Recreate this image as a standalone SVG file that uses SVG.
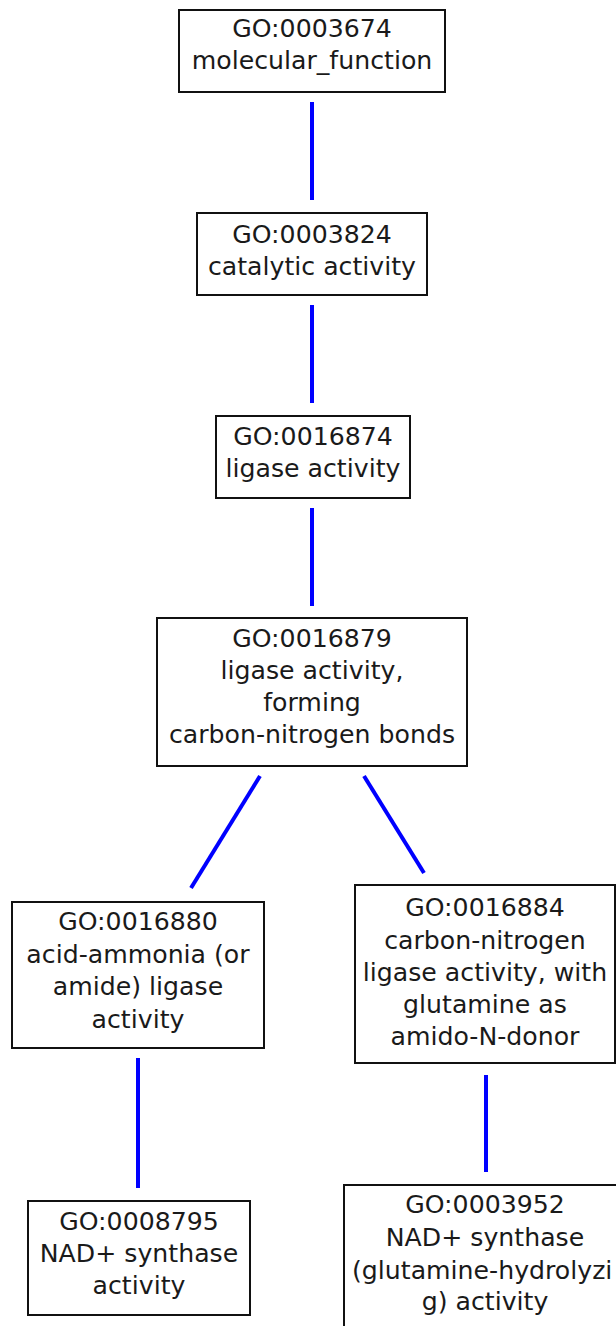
<svg xmlns="http://www.w3.org/2000/svg" width="616" height="1326" viewBox="0 0 616 1326">
  <style>
    .box { fill: #ffffff; stroke: #111111; stroke-width: 2; }
    .lbl { font-family: "DejaVu Sans", sans-serif; font-size: 25.2px; fill: #1a1a1a; text-anchor: middle; }
    .edge { stroke: #0000ff; stroke-width: 4; fill: none; }
  </style>
  <rect width="616" height="1326" fill="#ffffff"/>

  <g id="connectors">
    <line class="edge" x1="312" y1="102" x2="312" y2="200"/>
    <line class="edge" x1="312" y1="305" x2="312" y2="403"/>
    <line class="edge" x1="312" y1="508" x2="312" y2="606"/>
    <line class="edge" x1="260" y1="776" x2="191" y2="888"/>
    <line class="edge" x1="364" y1="776" x2="424" y2="873"/>
    <line class="edge" x1="138" y1="1058" x2="138" y2="1188"/>
    <line class="edge" x1="486" y1="1075" x2="486" y2="1172"/>
  </g>

  <g id="GO0003674">
    <rect class="box" x="179" y="10" width="266" height="82"/>
    <text class="lbl" x="312" y="37">GO:0003674</text>
    <text class="lbl" x="312" y="69">molecular_function</text>
  </g>

  <g id="GO0003824">
    <rect class="box" x="197" y="213" width="230" height="82"/>
    <text class="lbl" x="312" y="243">GO:0003824</text>
    <text class="lbl" x="312" y="275">catalytic activity</text>
  </g>

  <g id="GO0016874">
    <rect class="box" x="216" y="416" width="194" height="82"/>
    <text class="lbl" x="313" y="445">GO:0016874</text>
    <text class="lbl" x="313" y="477">ligase activity</text>
  </g>

  <g id="GO0016879">
    <rect class="box" x="157" y="618" width="310" height="148"/>
    <text class="lbl" x="312" y="647">GO:0016879</text>
    <text class="lbl" x="312" y="679">ligase activity,</text>
    <text class="lbl" x="312" y="711">forming</text>
    <text class="lbl" x="312" y="743">carbon-nitrogen bonds</text>
  </g>

  <g id="GO0016880">
    <rect class="box" x="12" y="902" width="252" height="146"/>
    <text class="lbl" x="138" y="930">GO:0016880</text>
    <text class="lbl" x="138" y="963">acid-ammonia (or</text>
    <text class="lbl" x="138" y="995">amide) ligase</text>
    <text class="lbl" x="138" y="1028">activity</text>
  </g>

  <g id="GO0016884">
    <rect class="box" x="355" y="885" width="260" height="178"/>
    <text class="lbl" x="485" y="916">GO:0016884</text>
    <text class="lbl" x="485" y="949">carbon-nitrogen</text>
    <text class="lbl" x="485" y="981">ligase activity, with</text>
    <text class="lbl" x="485" y="1013">glutamine as</text>
    <text class="lbl" x="485" y="1045">amido-N-donor</text>
  </g>

  <g id="GO0008795">
    <rect class="box" x="28" y="1201" width="222" height="114"/>
    <text class="lbl" x="139" y="1230">GO:0008795</text>
    <text class="lbl" x="139" y="1262">NAD+ synthase</text>
    <text class="lbl" x="139" y="1294">activity</text>
  </g>

  <g id="GO0003952">
    <rect class="box" x="344" y="1185" width="300" height="160"/>
    <text class="lbl" x="485" y="1213">GO:0003952</text>
    <text class="lbl" x="485" y="1246">NAD+ synthase</text>
    <text class="lbl" x="352" y="1279" style="text-anchor: start">(glutamine-hydrolyzi</text>
    <text class="lbl" x="485" y="1310">g) activity</text>
  </g>
</svg>
